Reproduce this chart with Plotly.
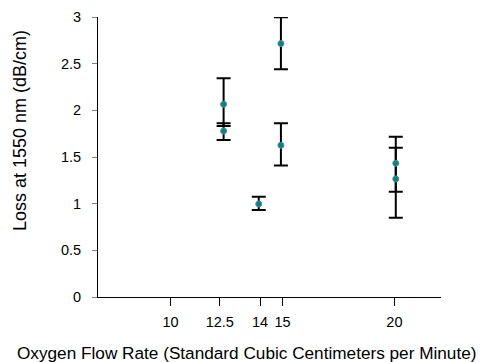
import plotly.graph_objects as go

flow_rate = [12.37, 12.37, 13.94, 14.93, 14.93, 20.06, 20.06]
loss = [2.065, 1.779, 0.997, 2.715, 1.626, 1.433, 1.265]
err_plus = [0.279, 0.082, 0.078, 0.282, 0.235, 0.285, 0.335]
err_minus = [0.232, 0.096, 0.065, 0.275, 0.216, 0.304, 0.415]

x_tick_pos = [10, 12.2, 14, 15, 20]
x_tick_text = ["10", "12.5", "14", "15", "20"]
y_tick_vals = [0, 0.5, 1, 1.5, 2, 2.5, 3]
y_tick_text = ["0", "0.5", "1", "1.5", "2", "2.5", "3"]
x_title = "Oxygen Flow Rate (Standard Cubic Centimeters per Minute)"
y_title = "Loss at 1550 nm (dB/cm)"

fig = go.Figure()
fig.add_trace(go.Scatter(
    x=flow_rate, y=loss, mode="markers",
    marker=dict(size=6, color="#17806d", line=dict(width=1, color="#3f93b8")),
    error_y=dict(type="data", symmetric=False, array=err_plus, arrayminus=err_minus,
                 color="black", thickness=2, width=7),
    showlegend=False,
))

font = "Liberation Sans, Arial, sans-serif"
fig.update_layout(
    width=484, height=362,
    margin=dict(l=98, r=43, t=17, b=65),
    paper_bgcolor="white", plot_bgcolor="white",
    font=dict(family=font, size=14.5, color="black"),
    xaxis=dict(
        range=[6.76, 22.08], tickmode="array", tickvals=x_tick_pos, ticktext=x_tick_text,
        showgrid=False, zeroline=False, showline=True, linecolor="black", linewidth=1,
        ticks="outside", ticklen=8, tickcolor="black", tickwidth=1, ticklabelstandoff=4,
        automargin=False,
    ),
    yaxis=dict(
        range=[0, 3], tickmode="array", tickvals=y_tick_vals, ticktext=y_tick_text,
        showgrid=False, zeroline=False, showline=True, linecolor="black", linewidth=1,
        ticks="outside", ticklen=5, tickcolor="#808080", tickwidth=1, ticklabelstandoff=8,
        automargin=False,
    ),
    annotations=[
        dict(text=x_title, xref="paper", yref="paper", x=0.432, y=-0.2,
             xanchor="center", yanchor="middle", showarrow=False,
             font=dict(size=17.2)),
        dict(text=y_title, xref="paper", yref="paper", x=-0.227, y=0.593,
             xanchor="center", yanchor="middle", showarrow=False, textangle=-90,
             font=dict(size=18)),
    ],
)

fig.write_html(
    "out.html",
    config={"displayModeBar": False},
    post_script="document.body.style.margin='0';document.body.style.overflow='hidden';",
)
